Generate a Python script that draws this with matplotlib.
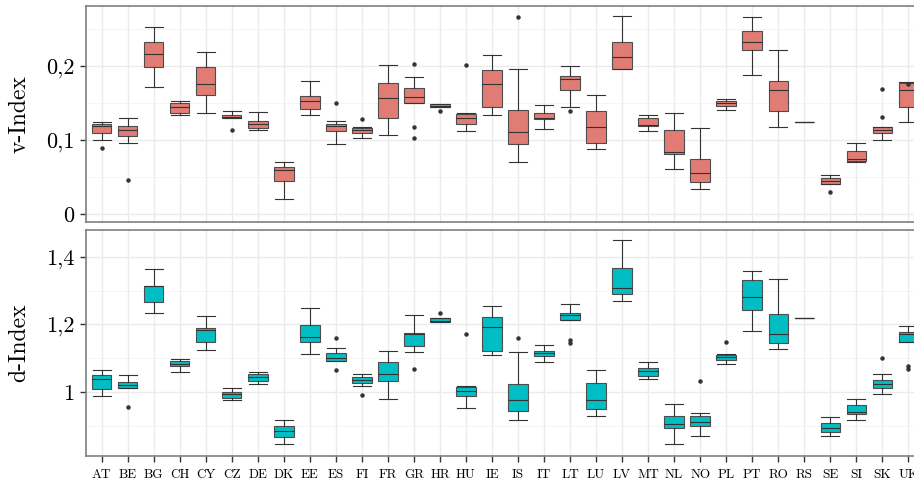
import matplotlib
matplotlib.use('Agg')
from matplotlib import pyplot as plt
from matplotlib.ticker import FixedLocator

plt.rcParams['font.family'] = ['cmr10', 'DejaVu Serif']
plt.rcParams['axes.formatter.use_mathtext'] = True

countries = ['AT', 'BE', 'BG', 'CH', 'CY', 'CZ', 'DE', 'DK', 'EE', 'ES', 'FI',
             'FR', 'GR', 'HR', 'HU', 'IE', 'IS', 'IT', 'LT', 'LU', 'LV', 'MT',
             'NL', 'NO', 'PL', 'PT', 'RO', 'RS', 'SE', 'SI', 'SK', 'UK']

# v-Index box statistics
v_whislo = [0.100, 0.096, 0.171, 0.133, 0.137, 0.129, 0.113, 0.020, 0.134, 0.095, 0.102,
            0.106, 0.150, 0.144, 0.112, 0.133, 0.070, 0.115, 0.144, 0.088, 0.196, 0.112,
            0.060, 0.033, 0.141, 0.188, 0.118, 0.124, 0.041, 0.070, 0.100, 0.124]
v_q1 = [0.109, 0.105, 0.199, 0.137, 0.161, 0.129, 0.116, 0.044, 0.142, 0.112, 0.109,
        0.129, 0.150, 0.144, 0.121, 0.144, 0.094, 0.128, 0.168, 0.096, 0.196, 0.119,
        0.081, 0.043, 0.146, 0.222, 0.139, 0.124, 0.041, 0.071, 0.109, 0.144]
v_med = [0.119, 0.113, 0.216, 0.144, 0.175, 0.131, 0.122, 0.059, 0.153, 0.119, 0.113,
         0.157, 0.158, 0.146, 0.130, 0.176, 0.110, 0.130, 0.182, 0.117, 0.212, 0.120,
         0.083, 0.055, 0.150, 0.232, 0.167, 0.124, 0.044, 0.074, 0.113, 0.168]
v_q3 = [0.122, 0.119, 0.233, 0.150, 0.199, 0.134, 0.126, 0.063, 0.160, 0.122, 0.116,
        0.177, 0.170, 0.148, 0.135, 0.195, 0.141, 0.136, 0.186, 0.139, 0.232, 0.129,
        0.113, 0.074, 0.153, 0.247, 0.180, 0.124, 0.048, 0.085, 0.117, 0.177]
v_whishi = [0.124, 0.129, 0.253, 0.153, 0.219, 0.139, 0.138, 0.070, 0.179, 0.125, 0.118,
            0.201, 0.185, 0.148, 0.137, 0.215, 0.196, 0.147, 0.200, 0.161, 0.268, 0.134,
            0.136, 0.116, 0.155, 0.266, 0.222, 0.124, 0.053, 0.096, 0.117, 0.178]
v_fliers = [[0.089], [0.046], [], [], [], [0.1135], [], [], [], [0.1496], [0.1288],
            [], [0.2027, 0.117, 0.1027], [0.1387], [0.2018], [], [0.2667], [], [0.1387], [], [], [],
            [], [], [], [], [], [], [0.0297], [], [0.1685, 0.1315], [0.176]]

# d-Index box statistics
d_whislo = [0.989, 1.011, 1.234, 1.058, 1.125, 0.975, 1.023, 0.847, 1.112, 1.092, 1.019,
            0.979, 1.119, 1.2065, 0.953, 1.108, 0.916, 1.090, 1.212, 0.928, 1.270, 1.039,
            0.847, 0.869, 1.084, 1.181, 1.127, 1.218, 0.869, 0.918, 0.993, 1.147]
d_q1 = [1.009, 1.011, 1.266, 1.076, 1.149, 0.983, 1.033, 0.865, 1.147, 1.092, 1.027,
        1.031, 1.135, 1.2065, 0.989, 1.122, 0.944, 1.106, 1.212, 0.950, 1.289, 1.046,
        0.892, 0.898, 1.094, 1.242, 1.145, 1.218, 0.880, 0.934, 1.013, 1.147]
d_med = [1.039, 1.021, 1.313, 1.082, 1.183, 0.995, 1.044, 0.884, 1.163, 1.102, 1.035,
         1.054, 1.173, 1.210, 1.003, 1.193, 0.975, 1.114, 1.228, 0.975, 1.309, 1.062,
         0.904, 0.910, 1.104, 1.281, 1.173, 1.218, 0.894, 0.940, 1.023, 1.171]
d_q3 = [1.050, 1.029, 1.315, 1.092, 1.189, 1.001, 1.054, 0.898, 1.199, 1.116, 1.044,
        1.090, 1.175, 1.218, 1.015, 1.222, 1.023, 1.122, 1.234, 1.027, 1.368, 1.070,
        0.928, 0.928, 1.110, 1.331, 1.232, 1.218, 0.908, 0.961, 1.036, 1.179]
d_whishi = [1.066, 1.050, 1.364, 1.098, 1.226, 1.013, 1.058, 0.916, 1.248, 1.131, 1.054,
            1.122, 1.228, 1.218, 1.017, 1.254, 1.119, 1.139, 1.260, 1.064, 1.449, 1.088,
            0.965, 0.936, 1.112, 1.357, 1.335, 1.218, 0.926, 0.979, 1.052, 1.195]
d_fliers = [[], [0.954], [], [], [], [], [], [], [], [1.161, 1.066], [0.991],
            [], [1.068], [1.234], [1.173], [], [1.159], [], [1.155, 1.145], [], [], [],
            [], [1.031], [1.149], [], [], [], [], [], [1.100], [1.078, 1.068]]


def make_stats(lo, q1, med, q3, hi, fl):
    stats = []
    for i in range(len(countries)):
        stats.append({'whislo': lo[i], 'q1': q1[i], 'med': med[i], 'q3': q3[i],
                      'whishi': hi[i], 'fliers': fl[i], 'label': countries[i]})
    return stats


def draw_panel(ax, stats, color):
    line = dict(color='#333333', linewidth=0.8)
    ax.bxp(stats, positions=range(1, len(stats) + 1), widths=0.75, capwidths=0.7,
           patch_artist=True, showfliers=True,
           boxprops=dict(facecolor=color, edgecolor='#4d4d4d', linewidth=0.8),
           medianprops=line, whiskerprops=line, capprops=line,
           flierprops=dict(marker='o', markersize=2.2, markerfacecolor='#333333',
                           markeredgecolor='#333333'))
    ax.set_xlim(0.4, len(stats) + 0.6)
    ax.set_axisbelow(True)
    ax.grid(True, which='major', color='#ebebeb', linewidth=1.0)
    ax.grid(True, which='minor', axis='y', color='#f2f2f2', linewidth=0.6)
    for s in ax.spines.values():
        s.set_color('#7f7f7f')
        s.set_linewidth(1.2)
    ax.tick_params(axis='y', length=4.5, width=1, color='#333333', labelsize=16, pad=4)


fig = plt.figure(figsize=(9.14, 4.82), dpi=100)
ax1 = fig.add_axes([86 / 914, 1 - 222 / 482, 838 / 914, 216 / 482])
ax2 = fig.add_axes([86 / 914, 1 - 456 / 482, 838 / 914, 226 / 482])

draw_panel(ax1, make_stats(v_whislo, v_q1, v_med, v_q3, v_whishi, v_fliers), '#E17C75')
draw_panel(ax2, make_stats(d_whislo, d_q1, d_med, d_q3, d_whishi, d_fliers), '#00BEC4')

ax1.set_ylim(-0.011, 0.281)
ax1.set_yticks([0, 0.1, 0.2])
ax1.set_yticklabels(['0', '0,1', '0,2'])
ax1.yaxis.set_minor_locator(FixedLocator([0.05, 0.15, 0.25]))
ax1.tick_params(axis='y', which='minor', length=0)
ax1.tick_params(axis='x', length=0, labelbottom=False)
ax1.set_ylabel('v-Index', fontsize=17, labelpad=11)

ax2.set_ylim(0.81, 1.48)
ax2.set_yticks([1.0, 1.2, 1.4])
ax2.set_yticklabels(['1', '1,2', '1,4'])
ax2.yaxis.set_minor_locator(FixedLocator([0.9, 1.1, 1.3]))
ax2.tick_params(axis='y', which='minor', length=0)
ax2.set_xticks(range(1, len(countries) + 1))
ax2.set_xticklabels(countries)
ax2.tick_params(axis='x', length=4.5, width=1, color='#333333', labelsize=9.5, pad=5)
ax2.set_ylabel('d-Index', fontsize=17, labelpad=11)

fig.savefig('out.png', dpi=100)
